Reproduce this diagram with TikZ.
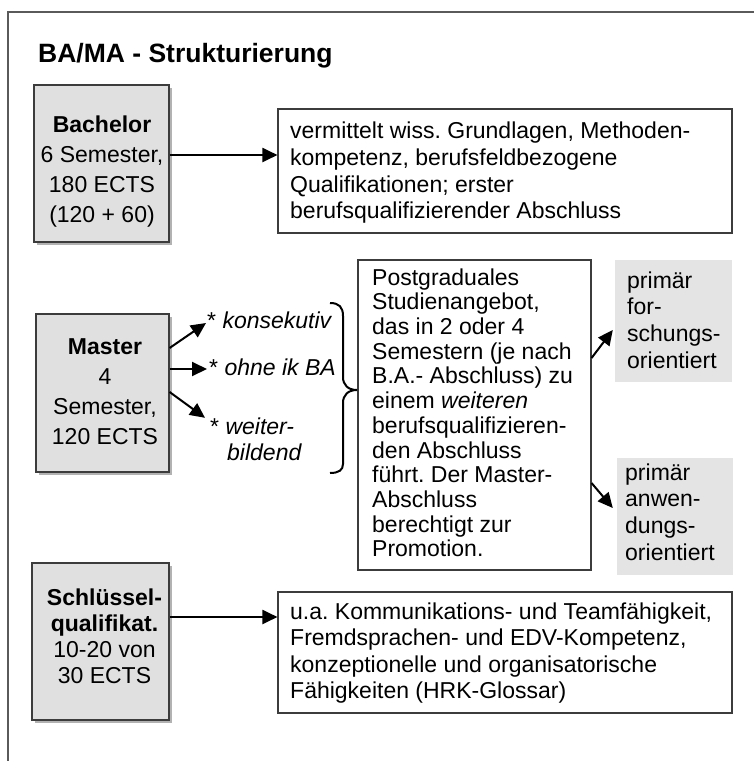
\documentclass[tikz,border=0pt]{standalone}
\usepackage{fontspec}
\setmainfont{Liberation Sans}
\usetikzlibrary{arrows.meta,shadows}
\definecolor{boxgray}{HTML}{E0E0E0}
\definecolor{lightgraytwo}{HTML}{E4E4E4}
\definecolor{edgecol}{HTML}{3C3C3C}
\definecolor{framecol}{HTML}{5A5A5A}
\begin{document}
\frenchspacing
\begin{tikzpicture}[x=1pt,y=-1pt,
  graybox/.style={draw=edgecol, line width=1.2pt, fill=boxgray, inner sep=0pt,
    drop shadow={shadow xshift=3pt, shadow yshift=-3pt, opacity=0.3, fill=black}},
  descbox/.style={draw=edgecol, line width=1.1pt, fill=white, inner sep=0pt},
  plainbox/.style={fill=lightgraytwo, inner sep=0pt},
  btxt/.style={font=\fontsize{23}{30}\selectfont, align=center, inner sep=0pt, anchor=north},
  ltxt/.style={align=left, inner sep=0pt, anchor=north west},
  arr/.style={line width=2pt, -{Triangle[length=15pt,width=14pt]}},
  framestyle/.style={draw=framecol, line width=1.5pt},
]
\useasboundingbox[fill=white] (0,0) rectangle (754,761);
\draw[framestyle] (8,761) -- (8,12) -- (754,12);

\node[anchor=base west, inner sep=0pt, font=\bfseries\fontsize{26.5}{30}\selectfont] (title) at (38,62) {BA/MA - Strukturierung};

% gray boxes
\node[graybox, minimum width=135pt, minimum height=157pt] (bach) at (101.5,163.5) {};
\node[graybox, minimum width=133pt, minimum height=158pt] (mas) at (102.5,393) {};
\node[graybox, minimum width=137pt, minimum height=157pt] (sk) at (100.5,641.5) {};

\node[btxt] (bachT) at (102,111) {\strut\textbf{Bachelor}\\6 Semester,\\180 ECTS\\(120 + 60)};
\node[btxt] (masT) at (105,333) {\strut\textbf{Master}\\4\\Semester,\\120 ECTS};
\node[btxt, font=\fontsize{23}{26}\selectfont] (skT) at (104.5,586.8) {\strut\textbf{Schlüssel-}\\\textbf{qualifikat.}\\10-20 von\\30 ECTS};

% description boxes
\node[descbox, minimum width=454pt, minimum height=124pt] (d1) at (505,171) {};
\node[descbox, minimum width=233pt, minimum height=310pt] (d2) at (474.5,415) {};
\node[descbox, minimum width=454pt, minimum height=121pt] (d3) at (505,652.5) {};

\node[ltxt, font=\fontsize{23}{26.7}\selectfont] (d1T) at (290,119.8) {\strut vermittelt wiss. Grundlagen, Methoden-\\kompetenz, berufsfeldbezogene\\Qualifikationen; erster\\berufsqualifizierender Abschluss};
\node[ltxt, font=\fontsize{23}{24.7}\selectfont] (d2T) at (372,267.7) {\strut Postgraduales\\Studienangebot,\\das in 2 oder 4\\Semestern (je nach\\B.A.- Abschluss) zu\\einem \textit{weiteren}\\berufsqualifizieren-\\den Abschluss\\führt. Der Master-\\Abschluss\\berechtigt zur\\Promotion.};
\node[ltxt, font=\fontsize{23}{26.5}\selectfont] (d3T) at (290,600.5) {\strut u.a. Kommunikations- und Teamfähigkeit,\\Fremdsprachen- und EDV-Kompetenz,\\konzeptionelle und organisatorische\\Fähigkeiten (HRK-Glossar)};

% plain gray boxes
\node[plainbox, minimum width=117pt, minimum height=122pt] (p1) at (673.5,321) {};
\node[plainbox, minimum width=116pt, minimum height=117pt] (p2) at (675,516.5) {};
\node[ltxt, font=\fontsize{23}{26.7}\selectfont] (p1T) at (627,269.3) {\strut primär\\for-\\schungs-\\orientiert};
\node[ltxt, font=\fontsize{23}{26.7}\selectfont] (p2T) at (625,461.3) {\strut primär\\anwen-\\dungs-\\orientiert};

% master labels
\node[anchor=base west, inner sep=0pt, font=\fontsize{23}{26}\selectfont] (lab1) at (207,328) {* \textit{konsekutiv}};
\node[anchor=base west, inner sep=0pt, font=\fontsize{23}{26}\selectfont] (lab2) at (209,375) {* \textit{ohne ik BA}};
\node[ltxt, font=\fontsize{23}{26}\selectfont] (lab3) at (210,415.8) {\strut* \textit{weiter-}\\\hspace*{17pt}\textit{bildend}};

% brace
\draw[line width=2pt] (330,303) .. controls (339,303) and (343,307) .. (343,316) -- (343,377) .. controls (343,385) and (348,390) .. (357,390) .. controls (348,390) and (343,395) .. (343,403) -- (343,464) .. controls (343,470) and (339,473) .. (330,473);

% arrows
\draw[arr] ([yshift=8.5pt]bach.east) -- ([yshift=8.5pt]bach.east -| d1.west);
\draw[arr] ([yshift=24.5pt]sk.east) -- ([yshift=24.5pt]sk.east -| d3.west);
\draw[arr] ([yshift=45pt]mas.east) -- ([shift={(-1,-5)}]lab1.base west);
\draw[arr] ([yshift=24pt]mas.east) -- ([shift={(-2,-6)}]lab2.base west);
\draw[arr] ([yshift=1pt]mas.east) -- ([shift={(-5,2)}]lab3.north west);
\draw[arr] ([yshift=57pt]d2.east) -- ([shift={(-2,9)}]p1.west);
\draw[arr] ([yshift=-68pt]d2.east) -- ([shift={(-4,-8.5)}]p2.west);
\end{tikzpicture}
\end{document}
